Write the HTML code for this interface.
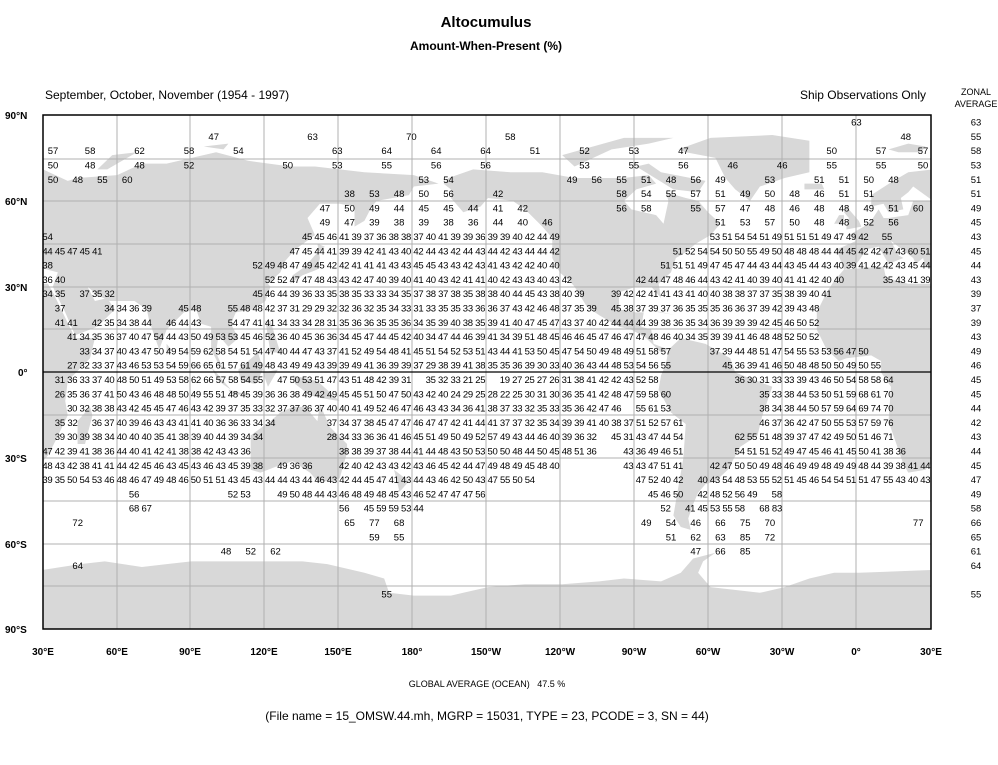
<!DOCTYPE html>
<html><head><meta charset="utf-8"><style>
body{margin:0;background:#fff}
svg text{font-family:"Liberation Sans",sans-serif}
.n{font-size:9.5px;fill:#000}
.s{font-size:9.5px;text-anchor:middle}
.b{font-weight:bold;font-size:10px}
</style></head><body>
<svg width="998" height="760" viewBox="0 0 998 760" xmlns="http://www.w3.org/2000/svg">
<rect width="998" height="760" fill="#fff"/>
<defs><clipPath id="c"><rect x="43" y="115" width="888" height="514"/></clipPath>
<g id="eaf">
<polygon points="-6,36 -9,43 -1,46 -4,48 2,51 5,53 8,57 10,54 12,54 20,55 22,60 30,60 22,65 20,63 17,61 18,57 12,56 10,59 5,58 5,62 14,67 20,70 30,71 40,67 44,68 60,69 70,73 80,73 100,77 113,74 130,72 140,72 160,70 180,69 190,66 180,65 178,62 165,60 163,58 160,53 156,51 156,58 150,59 142,59 137,54 140,48 132,43 128,39 126,35 121,31 122,30 120,25 115,22 108,21 106,17 109,12 105,9 101,13 100,7 103,1 101,3 98,8 98,16 94,17 92,22 87,21 80,15 77,8 73,18 72,22 67,25 57,25 52,27 48,30 51,25 56,26 59,22 52,16 43,13 39,21 35,28 34,30 36,35 27,37 26,40 23,38 22,40 19,42 13,46 16,41 18,40 12,38 8,44 3,43 0,39 -2,37"/>
<polygon points="-6,36 10,37 11,33 20,31 32,31 34,28 43,12 51,12 49,5 40,-3 39,-10 40,-15 35,-24 32,-29 27,-34 20,-35 18,-32 12,-17 13,-5 9,0 9,4 5,6 -5,5 -8,4 -13,8 -17,15 -17,21 -13,28 -10,32"/>
<polygon points="44,-25 47,-25 50,-15 49,-12 44,-17"/>
<polygon points="-5,50 1,51 0,53 -3,56 -5,58 -6,56 -4,54 -5,51"/>
<polygon points="-10,52 -6,52 -6,55 -8,55"/>
<polygon points="-22,64 -14,64 -15,66 -22,66"/>
<polygon points="12,78 20,80 27,79 25,77 16,77"/>
</g></defs>
<g clip-path="url(#c)"><g transform="matrix(2.4722 0 0 -2.861 -31.17 372.5)" fill="#d8d8d8">
<use href="#eaf"/><use href="#eaf" transform="translate(360 0)"/>
<polygon points="52,71 58,76 68,77 56,71"/>
<polygon points="95,79 105,80 103,78"/>
<polygon points="80,6 82,8 80,10"/>
<polygon points="192,66 194,68 204,71 219,70 232,70 245,68 265,68 275,69 278,66 270,64 265,60 268,57 278,55 281,52 283,60 282,63 290,61 295,60 299,56 304,52 300,48 294,45 290,42 286,40 284,35 279,31 280,26 278,28 276,30 270,30 263,28 263,22 270,21 273,21 272,16 276,15 277,10 283,8 280,7 274,12 268,15 263,16 255,20 250,23 245,30 243,32 239,35 236,40 236,47 232,51 225,57 220,60 210,61 207,58 200,56 198,58 195,61 195,64"/>
<polygon points="287,78 300,82 325,83 340,81 340,70 330,68 320,65 316,60 310,64 306,68 302,75 290,77"/>
<polygon points="280,70 298,67 295,63 285,64 270,72 275,73"/>
<polygon points="245,72 260,78 275,80 285,82 265,82 240,76"/>
<polygon points="275,22 286,20 283,20.5 276,21.5"/>
<polygon points="283,8 288,12 298,10 308,5 310,0 316,-2 325,-5 321,-15 319,-22 312,-26 307,-34 302,-38 298,-39 295,-42 293,-46 291,-51 292,-55 288,-54 285,-50 287,-40 289,-30 290,-18 284,-14 279,-6 280,-1 282,3"/>
<polygon points="114,-22 114,-34 118,-35 124,-33 131,-31 138,-35 141,-38 147,-38 150,-37 153,-28 153,-25 146,-19 142,-11 141,-17 136,-12 131,-12 126,-14 122,-17"/>
<polygon points="131,-1 141,-3 150,-10 143,-9 138,-8 132,-4"/>
<polygon points="109,1 117,7 119,1 116,-4 110,-3"/>
<polygon points="95,5 106,-6 101,-3 98,2"/>
<polygon points="105,-6 114,-8 106,-7.5"/>
<polygon points="119,0 125,1 121,-5"/>
<polygon points="130,31 135,34 141,36 142,40 141,45 144,44 140,41 136,37 131,34"/>
<polygon points="120,18 122,18 126,7 122,7"/>
<polygon points="172,-34 178,-38 175,-41 168,-46 171,-44 174,-41"/>
<polygon points="30,-69 45,-67 55,-66 70,-68 80,-67 90,-66 100,-66 110,-66 120,-66 135,-66 145,-67 160,-70 168,-72 170,-77 180,-78 195,-78 200,-77 210,-75 225,-74 240,-74 255,-73 265,-72 280,-73 288,-70 293,-65 302,-63 297,-66 295,-70 300,-75 320,-77 330,-75 340,-72 350,-70 360,-70 390,-69 390,-91 30,-91"/>
</g></g>
<g stroke="#b0b0b0" stroke-width="1">
<line x1="117" y1="115" x2="117" y2="629"/><line x1="190" y1="115" x2="190" y2="629"/><line x1="264" y1="115" x2="264" y2="629"/><line x1="338" y1="115" x2="338" y2="629"/><line x1="412" y1="115" x2="412" y2="629"/><line x1="486" y1="115" x2="486" y2="629"/><line x1="560" y1="115" x2="560" y2="629"/><line x1="634" y1="115" x2="634" y2="629"/><line x1="708" y1="115" x2="708" y2="629"/><line x1="782" y1="115" x2="782" y2="629"/><line x1="856" y1="115" x2="856" y2="629"/>
<line x1="43" y1="159" x2="931" y2="159"/><line x1="43" y1="201" x2="931" y2="201"/><line x1="43" y1="244" x2="931" y2="244"/><line x1="43" y1="287" x2="931" y2="287"/><line x1="43" y1="329" x2="931" y2="329"/><line x1="43" y1="415" x2="931" y2="415"/><line x1="43" y1="458" x2="931" y2="458"/><line x1="43" y1="501" x2="931" y2="501"/><line x1="43" y1="544" x2="931" y2="544"/><line x1="43" y1="586" x2="931" y2="586"/>
</g>
<line x1="43" y1="372" x2="931" y2="372" stroke="#000" stroke-width="1.2"/>
<rect x="43" y="115" width="888" height="514" fill="none" stroke="#000" stroke-width="1.5"/>

<text x="486" y="27" text-anchor="middle" font-weight="bold" font-size="15">Altocumulus</text>
<text x="486" y="50" text-anchor="middle" font-weight="bold" font-size="12">Amount-When-Present (%)</text>
<text x="45" y="99" font-size="12">September, October, November (1954 - 1997)</text>
<text x="926" y="99" text-anchor="end" font-size="12">Ship Observations Only</text>
<text x="976" y="95" text-anchor="middle" font-size="9">ZONAL</text>
<text x="976" y="107" text-anchor="middle" font-size="9">AVERAGE</text>

<g class="b">
<text x="5" y="119">90°N</text><text x="5" y="205">60°N</text><text x="5" y="291">30°N</text><text x="18" y="376">0°</text><text x="5" y="462">30°S</text><text x="5" y="548">60°S</text><text x="5" y="633">90°S</text>
</g>
<g class="b" text-anchor="middle">
<text x="43" y="655">30°E</text><text x="117" y="655">60°E</text><text x="190" y="655">90°E</text><text x="264" y="655">120°E</text><text x="338" y="655">150°E</text><text x="412" y="655">180°</text><text x="486" y="655">150°W</text><text x="560" y="655">120°W</text><text x="634" y="655">90°W</text><text x="708" y="655">60°W</text><text x="782" y="655">30°W</text><text x="856" y="655">0°</text><text x="931" y="655">30°E</text>
</g>
<text x="487" y="687" text-anchor="middle" font-size="9">GLOBAL AVERAGE (OCEAN)&#160;&#160;&#160;47.5 %</text>
<text x="487" y="720" text-anchor="middle" font-size="12">(File name = 15_OMSW.44.mh, MGRP = 15031, TYPE = 23, PCODE = 3, SN = 44)</text>

<g class="s" font-size="9.5">
<text x="856.4" y="125.6">63</text>
<text x="213.7" y="139.9">47</text><text x="312.6" y="139.9">63</text><text x="411.4" y="139.9">70</text><text x="510.3" y="139.9">58</text><text x="905.8" y="139.9">48</text>
<text x="53" y="154.2">57</text><text x="90.1" y="154.2">58</text><text x="139.5" y="154.2">62</text><text x="189" y="154.2">58</text><text x="238.4" y="154.2">54</text><text x="337.3" y="154.2">63</text><text x="386.7" y="154.2">64</text><text x="436.2" y="154.2">64</text><text x="485.6" y="154.2">64</text><text x="535" y="154.2">51</text><text x="584.5" y="154.2">52</text><text x="633.9" y="154.2">53</text><text x="683.4" y="154.2">47</text><text x="831.7" y="154.2">50</text><text x="881.1" y="154.2">57</text><text x="923" y="154.2">57</text>
<text x="53" y="168.5">50</text><text x="90.1" y="168.5">48</text><text x="139.5" y="168.5">48</text><text x="189" y="168.5">52</text><text x="287.8" y="168.5">50</text><text x="337.3" y="168.5">53</text><text x="386.7" y="168.5">55</text><text x="436.2" y="168.5">56</text><text x="485.6" y="168.5">56</text><text x="584.5" y="168.5">53</text><text x="633.9" y="168.5">55</text><text x="683.4" y="168.5">56</text><text x="732.8" y="168.5">46</text><text x="782.2" y="168.5">46</text><text x="831.7" y="168.5">55</text><text x="881.1" y="168.5">55</text><text x="923" y="168.5">50</text>
<text x="53" y="182.8">50</text><text x="77.7" y="182.8">48</text><text x="102.4" y="182.8">55</text><text x="127.2" y="182.8">60</text><text x="423.8" y="182.8">53</text><text x="448.5" y="182.8">54</text><text x="572.1" y="182.8">49</text><text x="596.8" y="182.8">56</text><text x="621.6" y="182.8">55</text><text x="646.3" y="182.8">51</text><text x="671" y="182.8">48</text><text x="695.7" y="182.8">56</text><text x="720.4" y="182.8">49</text><text x="769.9" y="182.8">53</text><text x="819.3" y="182.8">51</text><text x="844" y="182.8">51</text><text x="868.8" y="182.8">50</text><text x="893.5" y="182.8">48</text>
<text x="349.6" y="197.1">38</text><text x="374.4" y="197.1">53</text><text x="399.1" y="197.1">48</text><text x="423.8" y="197.1">50</text><text x="448.5" y="197.1">56</text><text x="498" y="197.1">42</text><text x="621.6" y="197.1">58</text><text x="646.3" y="197.1">54</text><text x="671" y="197.1">55</text><text x="695.7" y="197.1">57</text><text x="720.4" y="197.1">51</text><text x="745.2" y="197.1">49</text><text x="769.9" y="197.1">50</text><text x="794.6" y="197.1">48</text><text x="819.3" y="197.1">46</text><text x="844" y="197.1">51</text><text x="868.8" y="197.1">51</text>
<text x="324.9" y="211.4">47</text><text x="349.6" y="211.4">50</text><text x="374.4" y="211.4">49</text><text x="399.1" y="211.4">44</text><text x="423.8" y="211.4">45</text><text x="448.5" y="211.4">45</text><text x="473.2" y="211.4">44</text><text x="498" y="211.4">41</text><text x="522.7" y="211.4">42</text><text x="621.6" y="211.4">56</text><text x="646.3" y="211.4">58</text><text x="695.7" y="211.4">55</text><text x="720.4" y="211.4">57</text><text x="745.2" y="211.4">47</text><text x="769.9" y="211.4">48</text><text x="794.6" y="211.4">46</text><text x="819.3" y="211.4">48</text><text x="844" y="211.4">48</text><text x="868.8" y="211.4">49</text><text x="893.5" y="211.4">51</text><text x="918.2" y="211.4">60</text>
<text x="324.9" y="225.7">49</text><text x="349.6" y="225.7">47</text><text x="374.4" y="225.7">39</text><text x="399.1" y="225.7">38</text><text x="423.8" y="225.7">39</text><text x="448.5" y="225.7">38</text><text x="473.2" y="225.7">36</text><text x="498" y="225.7">44</text><text x="522.7" y="225.7">40</text><text x="547.4" y="225.7">46</text><text x="720.4" y="225.7">51</text><text x="745.2" y="225.7">53</text><text x="769.9" y="225.7">57</text><text x="794.6" y="225.7">50</text><text x="819.3" y="225.7">48</text><text x="844" y="225.7">48</text><text x="868.8" y="225.7">52</text><text x="893.5" y="225.7">56</text>
<text x="887" y="240">55</text>
<text x="77.7" y="526">72</text><text x="349.6" y="526">65</text><text x="374.4" y="526">77</text><text x="399.1" y="526">68</text><text x="646.3" y="526">49</text><text x="671" y="526">54</text><text x="695.7" y="526">46</text><text x="720.4" y="526">66</text><text x="745.2" y="526">75</text><text x="769.9" y="526">70</text><text x="918.2" y="526">77</text>
<text x="374.4" y="540.3">59</text><text x="399.1" y="540.3">55</text><text x="671" y="540.3">51</text><text x="695.7" y="540.3">62</text><text x="720.4" y="540.3">63</text><text x="745.2" y="540.3">85</text><text x="769.9" y="540.3">72</text>
<text x="226" y="554.6">48</text><text x="250.8" y="554.6">52</text><text x="275.5" y="554.6">62</text><text x="695.7" y="554.6">47</text><text x="720.4" y="554.6">66</text><text x="745.2" y="554.6">85</text>
<text x="77.7" y="568.9">64</text>
<text x="386.7" y="597.5">55</text>
</g>

<g class="n" font-size="9.5">
<text x="42.4" y="240">54</text>
<text x="302" y="240" textLength="257.8" lengthAdjust="spacing">45 45 46 41 39 37 36 38 38 37 40 41 39 39 36 39 39 40 42 44 49</text>
<text x="709.8" y="240" textLength="158.9" lengthAdjust="spacing">53 51 54 54 51 49 51 51 51 49 47 49 42</text>

<text x="42.4" y="254.3" textLength="60" lengthAdjust="spacing">44 45 47 45 41</text>
<text x="289.6" y="254.3" textLength="270.2" lengthAdjust="spacing">47 45 44 41 39 39 42 41 43 40 42 44 43 42 44 43 44 42 43 44 44 42</text>
<text x="672.8" y="254.3" textLength="257.8" lengthAdjust="spacing">51 52 54 54 50 50 55 49 50 48 48 48 44 44 45 42 42 47 43 60 51</text>

<text x="42.4" y="268.6">38</text>
<text x="252.5" y="268.6" textLength="307.2" lengthAdjust="spacing">52 49 48 47 49 45 42 42 41 41 41 43 43 45 45 43 43 42 43 41 43 42 42 40 40</text>
<text x="660.4" y="268.6" textLength="270.2" lengthAdjust="spacing">51 51 51 49 47 45 47 44 43 44 43 45 44 43 40 39 41 42 42 43 45 44</text>

<text x="42.4" y="282.9" textLength="23" lengthAdjust="spacing">36 40</text>
<text x="264.9" y="282.9" textLength="307.2" lengthAdjust="spacing">52 52 47 47 48 43 43 42 47 40 39 40 41 40 43 42 41 41 40 42 43 43 40 43 42</text>
<text x="635.7" y="282.9" textLength="208.4" lengthAdjust="spacing">42 44 47 48 46 44 43 42 41 40 39 40 41 41 42 40 40</text>
<text x="882.9" y="282.9" textLength="47.7" lengthAdjust="spacing">35 43 41 39</text>

<text x="42.4" y="297.2" textLength="23" lengthAdjust="spacing">34 35</text>
<text x="79.5" y="297.2" textLength="35.3" lengthAdjust="spacing">37 35 32</text>
<text x="252.5" y="297.2" textLength="332" lengthAdjust="spacing">45 46 44 39 36 33 35 38 35 33 33 34 35 37 38 37 38 35 38 38 40 44 45 43 38 40 39</text>
<text x="611" y="297.2" textLength="220.7" lengthAdjust="spacing">39 42 42 41 41 43 41 40 40 38 38 37 37 35 38 39 40 41</text>

<text x="54.8" y="311.5">37</text>
<text x="104.2" y="311.5" textLength="47.7" lengthAdjust="spacing">34 34 36 39</text>
<text x="178.4" y="311.5" textLength="23" lengthAdjust="spacing">45 48</text>
<text x="227.8" y="311.5" textLength="369" lengthAdjust="spacing">55 48 48 42 37 31 29 29 32 32 36 32 35 34 33 31 33 35 35 33 36 36 37 43 42 46 48 37 35 39</text>
<text x="611" y="311.5" textLength="208.4" lengthAdjust="spacing">45 38 37 39 37 36 35 35 35 36 36 37 39 42 39 43 48</text>

<text x="54.8" y="325.8" textLength="23" lengthAdjust="spacing">41 41</text>
<text x="91.8" y="325.8" textLength="60" lengthAdjust="spacing">42 35 34 38 44</text>
<text x="166" y="325.8" textLength="35.3" lengthAdjust="spacing">46 44 43</text>
<text x="227.8" y="325.8" textLength="591.5" lengthAdjust="spacing">54 47 41 41 34 33 34 28 31 35 36 36 35 35 36 34 35 39 40 38 35 39 41 40 47 45 47 43 37 40 42 44 44 44 39 38 36 35 34 36 39 39 39 42 45 46 50 52</text>

<text x="67.1" y="340.1" textLength="752.2" lengthAdjust="spacing">41 34 35 36 37 40 47 54 44 43 50 49 53 53 45 46 52 36 40 45 36 36 34 45 47 44 45 42 40 34 47 44 46 39 41 34 39 51 48 45 46 46 45 47 46 47 47 48 46 40 34 35 39 39 41 46 48 48 52 50 52</text>

<text x="79.5" y="354.4" textLength="591.5" lengthAdjust="spacing">33 34 37 40 43 47 50 49 54 59 62 58 54 51 54 47 40 44 47 43 37 41 52 49 54 48 41 45 51 54 52 53 51 43 44 41 53 50 45 47 54 50 49 48 49 51 58 57</text>
<text x="709.8" y="354.4" textLength="158.9" lengthAdjust="spacing">37 39 44 48 51 47 54 55 53 53 56 47 50</text>

<text x="67.1" y="368.7" textLength="603.9" lengthAdjust="spacing">27 32 33 37 43 46 53 53 54 59 66 65 61 57 61 49 48 43 49 49 43 39 39 49 41 36 39 39 37 29 38 39 41 38 35 35 36 39 30 33 40 36 43 44 48 53 54 56 55</text>
<text x="722.2" y="368.7" textLength="158.9" lengthAdjust="spacing">45 36 39 41 46 50 48 48 50 50 49 50 55</text>

<text x="54.8" y="383" textLength="208.4" lengthAdjust="spacing">31 36 33 37 40 48 50 51 49 53 58 62 66 57 58 54 55</text>
<text x="277.2" y="383" textLength="134.2" lengthAdjust="spacing">47 50 53 51 47 43 51 48 42 39 31</text>
<text x="425.6" y="383" textLength="60" lengthAdjust="spacing">35 32 33 21 25</text>
<text x="499.7" y="383" textLength="158.9" lengthAdjust="spacing">19 27 25 27 26 31 38 41 42 42 43 52 58</text>
<text x="734.6" y="383" textLength="158.9" lengthAdjust="spacing">36 30 31 33 33 39 43 46 50 54 58 58 64</text>

<text x="54.8" y="397.3" textLength="616.2" lengthAdjust="spacing">26 35 36 37 41 50 43 46 48 48 50 49 55 51 48 45 39 36 36 38 49 42 49 45 45 51 50 47 50 43 42 40 24 29 25 28 22 25 30 31 30 36 35 41 42 48 47 59 58 60</text>
<text x="759.3" y="397.3" textLength="134.2" lengthAdjust="spacing">35 33 38 44 53 50 51 59 68 61 70</text>

<text x="67.1" y="411.6" textLength="554.4" lengthAdjust="spacing">30 32 38 38 43 42 45 45 47 46 43 42 39 37 35 33 32 37 37 36 37 40 40 41 49 52 46 47 46 43 43 34 36 41 38 37 33 32 35 33 35 36 42 47 46</text>
<text x="635.7" y="411.6" textLength="35.3" lengthAdjust="spacing">55 61 53</text>
<text x="759.3" y="411.6" textLength="134.2" lengthAdjust="spacing">38 34 38 44 50 57 59 64 69 74 70</text>

<text x="54.8" y="425.9" textLength="23" lengthAdjust="spacing">35 32</text>
<text x="91.8" y="425.9" textLength="183.6" lengthAdjust="spacing">36 37 40 39 46 43 43 41 41 40 36 36 33 34 34</text>
<text x="326.7" y="425.9" textLength="356.7" lengthAdjust="spacing">37 34 37 38 45 47 47 46 47 47 42 41 44 41 37 37 32 35 34 39 39 41 40 38 37 51 52 57 61</text>
<text x="759.3" y="425.9" textLength="134.2" lengthAdjust="spacing">46 37 36 42 47 50 55 53 57 59 76</text>

<text x="54.8" y="440.2" textLength="208.4" lengthAdjust="spacing">39 30 39 38 34 40 40 40 35 41 38 39 40 44 39 34 34</text>
<text x="326.7" y="440.2" textLength="270.2" lengthAdjust="spacing">28 34 33 36 36 41 46 45 51 49 50 49 52 57 49 43 44 46 40 39 36 32</text>
<text x="611" y="440.2" textLength="72.4" lengthAdjust="spacing">45 31 43 47 44 54</text>
<text x="734.6" y="440.2" textLength="158.9" lengthAdjust="spacing">62 55 51 48 39 37 47 42 49 50 51 46 71</text>

<text x="42.4" y="454.5" textLength="208.4" lengthAdjust="spacing">47 42 39 41 38 36 44 40 41 42 41 38 38 42 43 43 36</text>
<text x="339" y="454.5" textLength="257.8" lengthAdjust="spacing">38 38 39 37 38 44 41 44 48 43 50 53 50 50 48 44 50 45 48 51 36</text>
<text x="623.3" y="454.5" textLength="60" lengthAdjust="spacing">43 36 49 46 51</text>
<text x="734.6" y="454.5" textLength="171.3" lengthAdjust="spacing">54 51 51 52 49 47 45 46 41 45 50 41 38 36</text>

<text x="42.4" y="468.8" textLength="220.7" lengthAdjust="spacing">48 43 42 38 41 41 44 42 45 46 43 45 43 46 43 45 39 38</text>
<text x="277.2" y="468.8" textLength="35.3" lengthAdjust="spacing">49 36 36</text>
<text x="339" y="468.8" textLength="220.7" lengthAdjust="spacing">42 40 42 43 43 42 43 46 45 42 44 47 49 48 49 45 48 40</text>
<text x="623.3" y="468.8" textLength="60" lengthAdjust="spacing">43 43 47 51 41</text>
<text x="709.8" y="468.8" textLength="220.7" lengthAdjust="spacing">42 47 50 50 49 48 46 49 49 48 49 49 48 44 39 38 41 44</text>

<text x="42.4" y="483.1" textLength="492.6" lengthAdjust="spacing">39 35 50 54 53 46 48 46 47 49 48 46 50 51 51 43 45 43 44 44 43 44 46 43 42 44 45 47 41 43 44 43 46 42 50 43 47 55 50 54</text>
<text x="635.7" y="483.1" textLength="47.7" lengthAdjust="spacing">47 52 40 42</text>
<text x="697.5" y="483.1" textLength="233.1" lengthAdjust="spacing">40 43 54 48 53 55 52 51 45 46 54 54 51 51 47 55 43 40 43</text>

<text x="128.9" y="497.4">56</text>
<text x="227.8" y="497.4" textLength="23" lengthAdjust="spacing">52 53</text>
<text x="277.2" y="497.4" textLength="208.4" lengthAdjust="spacing">49 50 48 44 43 46 48 49 48 45 43 46 52 47 47 47 56</text>
<text x="648" y="497.4" textLength="35.3" lengthAdjust="spacing">45 46 50</text>
<text x="697.5" y="497.4" textLength="60" lengthAdjust="spacing">42 48 52 56 49</text>
<text x="771.6" y="497.4">58</text>

<text x="128.9" y="511.7" textLength="23" lengthAdjust="spacing">68 67</text>
<text x="339" y="511.7">56</text>
<text x="363.8" y="511.7" textLength="60" lengthAdjust="spacing">45 59 59 53 44</text>
<text x="660.4" y="511.7">52</text>
<text x="685.1" y="511.7" textLength="60" lengthAdjust="spacing">41 45 53 55 58</text>
<text x="759.3" y="511.7" textLength="23" lengthAdjust="spacing">68 83</text>
</g>

<g class="s" font-size="9.5">
<text x="976" y="125.6">63</text><text x="976" y="139.9">55</text><text x="976" y="154.2">58</text><text x="976" y="168.5">53</text><text x="976" y="182.8">51</text><text x="976" y="197.1">51</text><text x="976" y="211.4">49</text><text x="976" y="225.7">45</text><text x="976" y="240">43</text><text x="976" y="254.3">45</text><text x="976" y="268.6">44</text><text x="976" y="282.9">43</text><text x="976" y="297.2">39</text><text x="976" y="311.5">37</text><text x="976" y="325.8">39</text><text x="976" y="340.1">43</text><text x="976" y="354.4">49</text><text x="976" y="368.7">46</text><text x="976" y="383">45</text><text x="976" y="397.3">45</text><text x="976" y="411.6">44</text><text x="976" y="425.9">42</text><text x="976" y="440.2">43</text><text x="976" y="454.5">44</text><text x="976" y="468.8">45</text><text x="976" y="483.1">47</text><text x="976" y="497.4">49</text><text x="976" y="511.7">58</text><text x="976" y="526">66</text><text x="976" y="540.3">65</text><text x="976" y="554.6">61</text><text x="976" y="568.9">64</text><text x="976" y="597.5">55</text>
</g>
</svg>
</body></html>
